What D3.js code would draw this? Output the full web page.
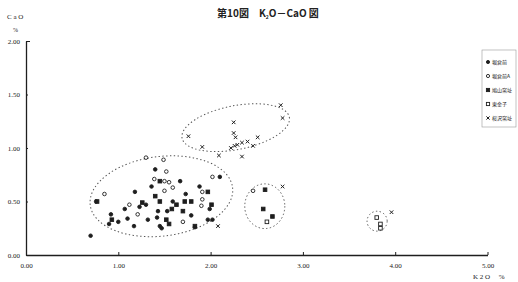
<!DOCTYPE html>
<html>
<head>
<meta charset="utf-8">
<script src="https://cdn.jsdelivr.net/npm/d3@7"></script>
<style>
  body { margin: 0; background: #fff; }
  text { fill: #222; }
</style>
</head>
<body>
<svg id="chart" width="518" height="282"></svg>
<script>
// K2O (%) , CaO (%) per site group
const seriesNames = ["堀倉前", "堀倉前A", "鳩山窯址", "東金子", "桜沢窯址"];
const seriesShapes = ["circle", "circleOpen", "square", "squareOpen", "cross"];

const groupA = [
  [1.40, 0.80], [1.67, 0.69], [1.18, 0.59], [1.73, 0.57], [2.10, 0.73],
  [1.59, 0.50], [1.30, 0.47], [1.07, 0.43], [1.23, 0.45], [1.43, 0.41],
  [1.53, 0.41], [1.99, 0.43], [0.92, 0.38], [1.10, 0.34], [1.32, 0.33],
  [0.90, 0.29], [1.17, 0.27], [1.45, 0.27], [1.97, 0.33], [2.02, 0.33],
  [1.47, 0.25], [0.70, 0.18], [1.83, 0.26], [1.42, 0.35], [0.76, 0.50],
  [1.36, 0.64], [1.79, 0.37], [1.00, 0.31], [1.88, 0.64]
];
const groupB = [
  [1.30, 0.91], [1.49, 0.89], [1.52, 0.78], [1.39, 0.71], [1.50, 0.69],
  [1.55, 0.68], [1.59, 0.63], [1.50, 0.60], [1.91, 0.59], [2.02, 0.73],
  [0.85, 0.57], [1.91, 0.52], [1.90, 0.46], [1.12, 0.47], [1.70, 0.31],
  [2.46, 0.60], [1.21, 0.38]
];
const groupC = [
  [1.45, 0.69], [1.97, 0.59], [0.77, 0.50], [1.45, 0.50], [1.72, 0.50],
  [1.79, 0.50], [1.26, 0.49], [1.58, 0.43], [1.70, 0.41], [0.93, 0.33],
  [1.52, 0.33], [1.55, 0.29], [1.83, 0.27], [2.59, 0.61], [2.57, 0.43],
  [2.67, 0.36], [1.63, 0.47], [1.40, 0.55], [2.01, 0.47]
];
const groupD = [
  [2.61, 0.31], [3.80, 0.35], [3.84, 0.29], [3.84, 0.25]
];
const groupE = [
  [1.76, 1.11], [1.91, 1.01], [2.09, 0.93], [2.25, 1.24], [2.25, 1.14],
  [2.27, 1.10], [2.22, 1.00], [2.26, 1.02], [2.29, 1.03], [2.34, 1.05],
  [2.40, 1.06], [2.46, 1.02], [2.51, 1.10], [2.34, 0.92], [2.76, 1.40],
  [2.78, 1.28], [2.08, 0.27], [2.78, 0.64], [3.96, 0.40]
];
const allGroups = [groupA, groupB, groupC, groupD, groupE];

// dashed cluster outlines: centre, half-widths (data units), tilt in degrees
const clusters = [
  { cx: 1.467, cy: 0.549, rx: 0.777, ry: 0.372, tilt: -7 },
  { cx: 2.272, cy: 1.190, rx: 0.592, ry: 0.205, tilt: -11 },
  { cx: 2.587, cy: 0.456, rx: 0.217, ry: 0.209, tilt: 0 },
  { cx: 3.804, cy: 0.316, rx: 0.109, ry: 0.093, tilt: 0 }
];

const xTicks = [0, 1, 2, 3, 4, 5];
const yTicks = [0, 0.5, 1, 1.5, 2];

const svg = d3.select("#chart");
svg.append("rect").attr("width", 518).attr("height", 282).attr("fill", "#fff");

const x = d3.scaleLinear().domain([0, 5]).range([26, 487.5]);
const y = d3.scaleLinear().domain([0, 2]).range([255, 41]);

const serif = "'Liberation Serif', 'DejaVu Serif', serif";
const ink = "#1e1e1e";

// title
const title = svg.append("text")
  .attr("x", 268).attr("y", 17)
  .attr("text-anchor", "middle")
  .style("font-family", "'Noto Sans CJK JP', sans-serif")
  .style("font-weight", "bold")
  .style("font-size", "10px");
title.append("tspan").text("第10図　K");
title.append("tspan").attr("dy", 2).style("font-size", "5px").text("2");
title.append("tspan").attr("dy", -2).text("O－CaO 図");

// x axis
const xAxis = svg.append("g")
  .attr("transform", `translate(0,${y(0)})`)
  .call(d3.axisBottom(x).tickValues(xTicks).tickFormat(d3.format(".2f"))
    .tickSizeInner(-3).tickSizeOuter(0).tickPadding(8));
xAxis.select(".domain").attr("stroke", ink).attr("stroke-width", 1.3);
xAxis.selectAll(".tick line").attr("stroke", ink).attr("stroke-width", 1);
xAxis.selectAll(".tick text")
  .style("font-family", serif).style("font-size", "7px").attr("fill", ink);

// y axis
const yAxis = svg.append("g")
  .attr("transform", `translate(${x(0)},0)`)
  .call(d3.axisRight(y).tickValues(yTicks).tickFormat(d3.format(".2f"))
    .tickSizeInner(2).tickSizeOuter(0).tickPadding(0));
yAxis.select(".domain").attr("stroke", ink).attr("stroke-width", 1.3);
yAxis.selectAll(".tick line").attr("stroke", ink).attr("stroke-width", 1);
yAxis.selectAll(".tick text")
  .attr("x", -6).attr("text-anchor", "end")
  .style("font-family", serif).style("font-size", "7px").attr("fill", ink);
yAxis.selectAll(".tick").filter(d => d === 2).select("line").attr("x2", 4);

// axis captions
svg.append("text").attr("x", 7).attr("y", 19)
  .style("font-family", serif).style("font-size", "7px").text("C a O");
svg.append("text").attr("x", 13).attr("y", 32)
  .style("font-family", serif).style("font-size", "6px").text("%");
svg.append("text").attr("x", 473).attr("y", 279)
  .style("font-family", serif).style("font-size", "7px").text("K 2 O　 %");

// dashed ellipses
svg.append("g").selectAll("ellipse")
  .data(clusters)
  .join("ellipse")
  .attr("transform", d => `translate(${x(d.cx)},${y(d.cy)}) rotate(${d.tilt})`)
  .attr("rx", d => x(d.cx + d.rx) - x(d.cx))
  .attr("ry", d => y(d.cy) - y(d.cy + d.ry))
  .attr("fill", "none")
  .attr("stroke", "#555")
  .attr("stroke-width", 1)
  .attr("stroke-dasharray", "1.4,2.4");

// markers
const drawMarker = (sel, shape, s) => {
  if (shape === "circle" || shape === "circleOpen") {
    sel.append("circle").attr("r", s / 2)
      .attr("fill", shape === "circle" ? ink : "#fff")
      .attr("stroke", ink).attr("stroke-width", 0.9);
  } else if (shape === "square" || shape === "squareOpen") {
    sel.append("rect").attr("x", -s / 2).attr("y", -s / 2)
      .attr("width", s).attr("height", s)
      .attr("fill", shape === "square" ? ink : "#fff")
      .attr("stroke", ink).attr("stroke-width", 0.9);
  } else {
    const h = s / 2;
    sel.append("path").attr("d", `M${-h},${-h}L${h},${h}M${-h},${h}L${h},${-h}`)
      .attr("stroke", ink).attr("stroke-width", 1);
  }
};

allGroups.forEach((pts, i) => {
  svg.append("g").selectAll("g")
    .data(pts)
    .join("g")
    .attr("transform", d => `translate(${x(d[0])},${y(d[1])})`)
    .each(function () { drawMarker(d3.select(this), seriesShapes[i], 3.6); });
});

// legend
const legend = svg.append("g");
legend.append("rect")
  .attr("x", 482).attr("y", 50).attr("width", 34).attr("height", 77)
  .attr("fill", "#fff").attr("stroke", "#999").attr("stroke-width", 0.6);
seriesNames.forEach((name, i) => {
  const g = legend.append("g").attr("transform", `translate(488,${62 + i * 14})`);
  drawMarker(g, seriesShapes[i], 3.2);
  g.append("text").attr("x", 4).attr("y", 2)
    .style("font-family", "'Noto Sans CJK JP', sans-serif")
    .style("font-size", "5px").text(name);
});
</script>
</body>
</html>
